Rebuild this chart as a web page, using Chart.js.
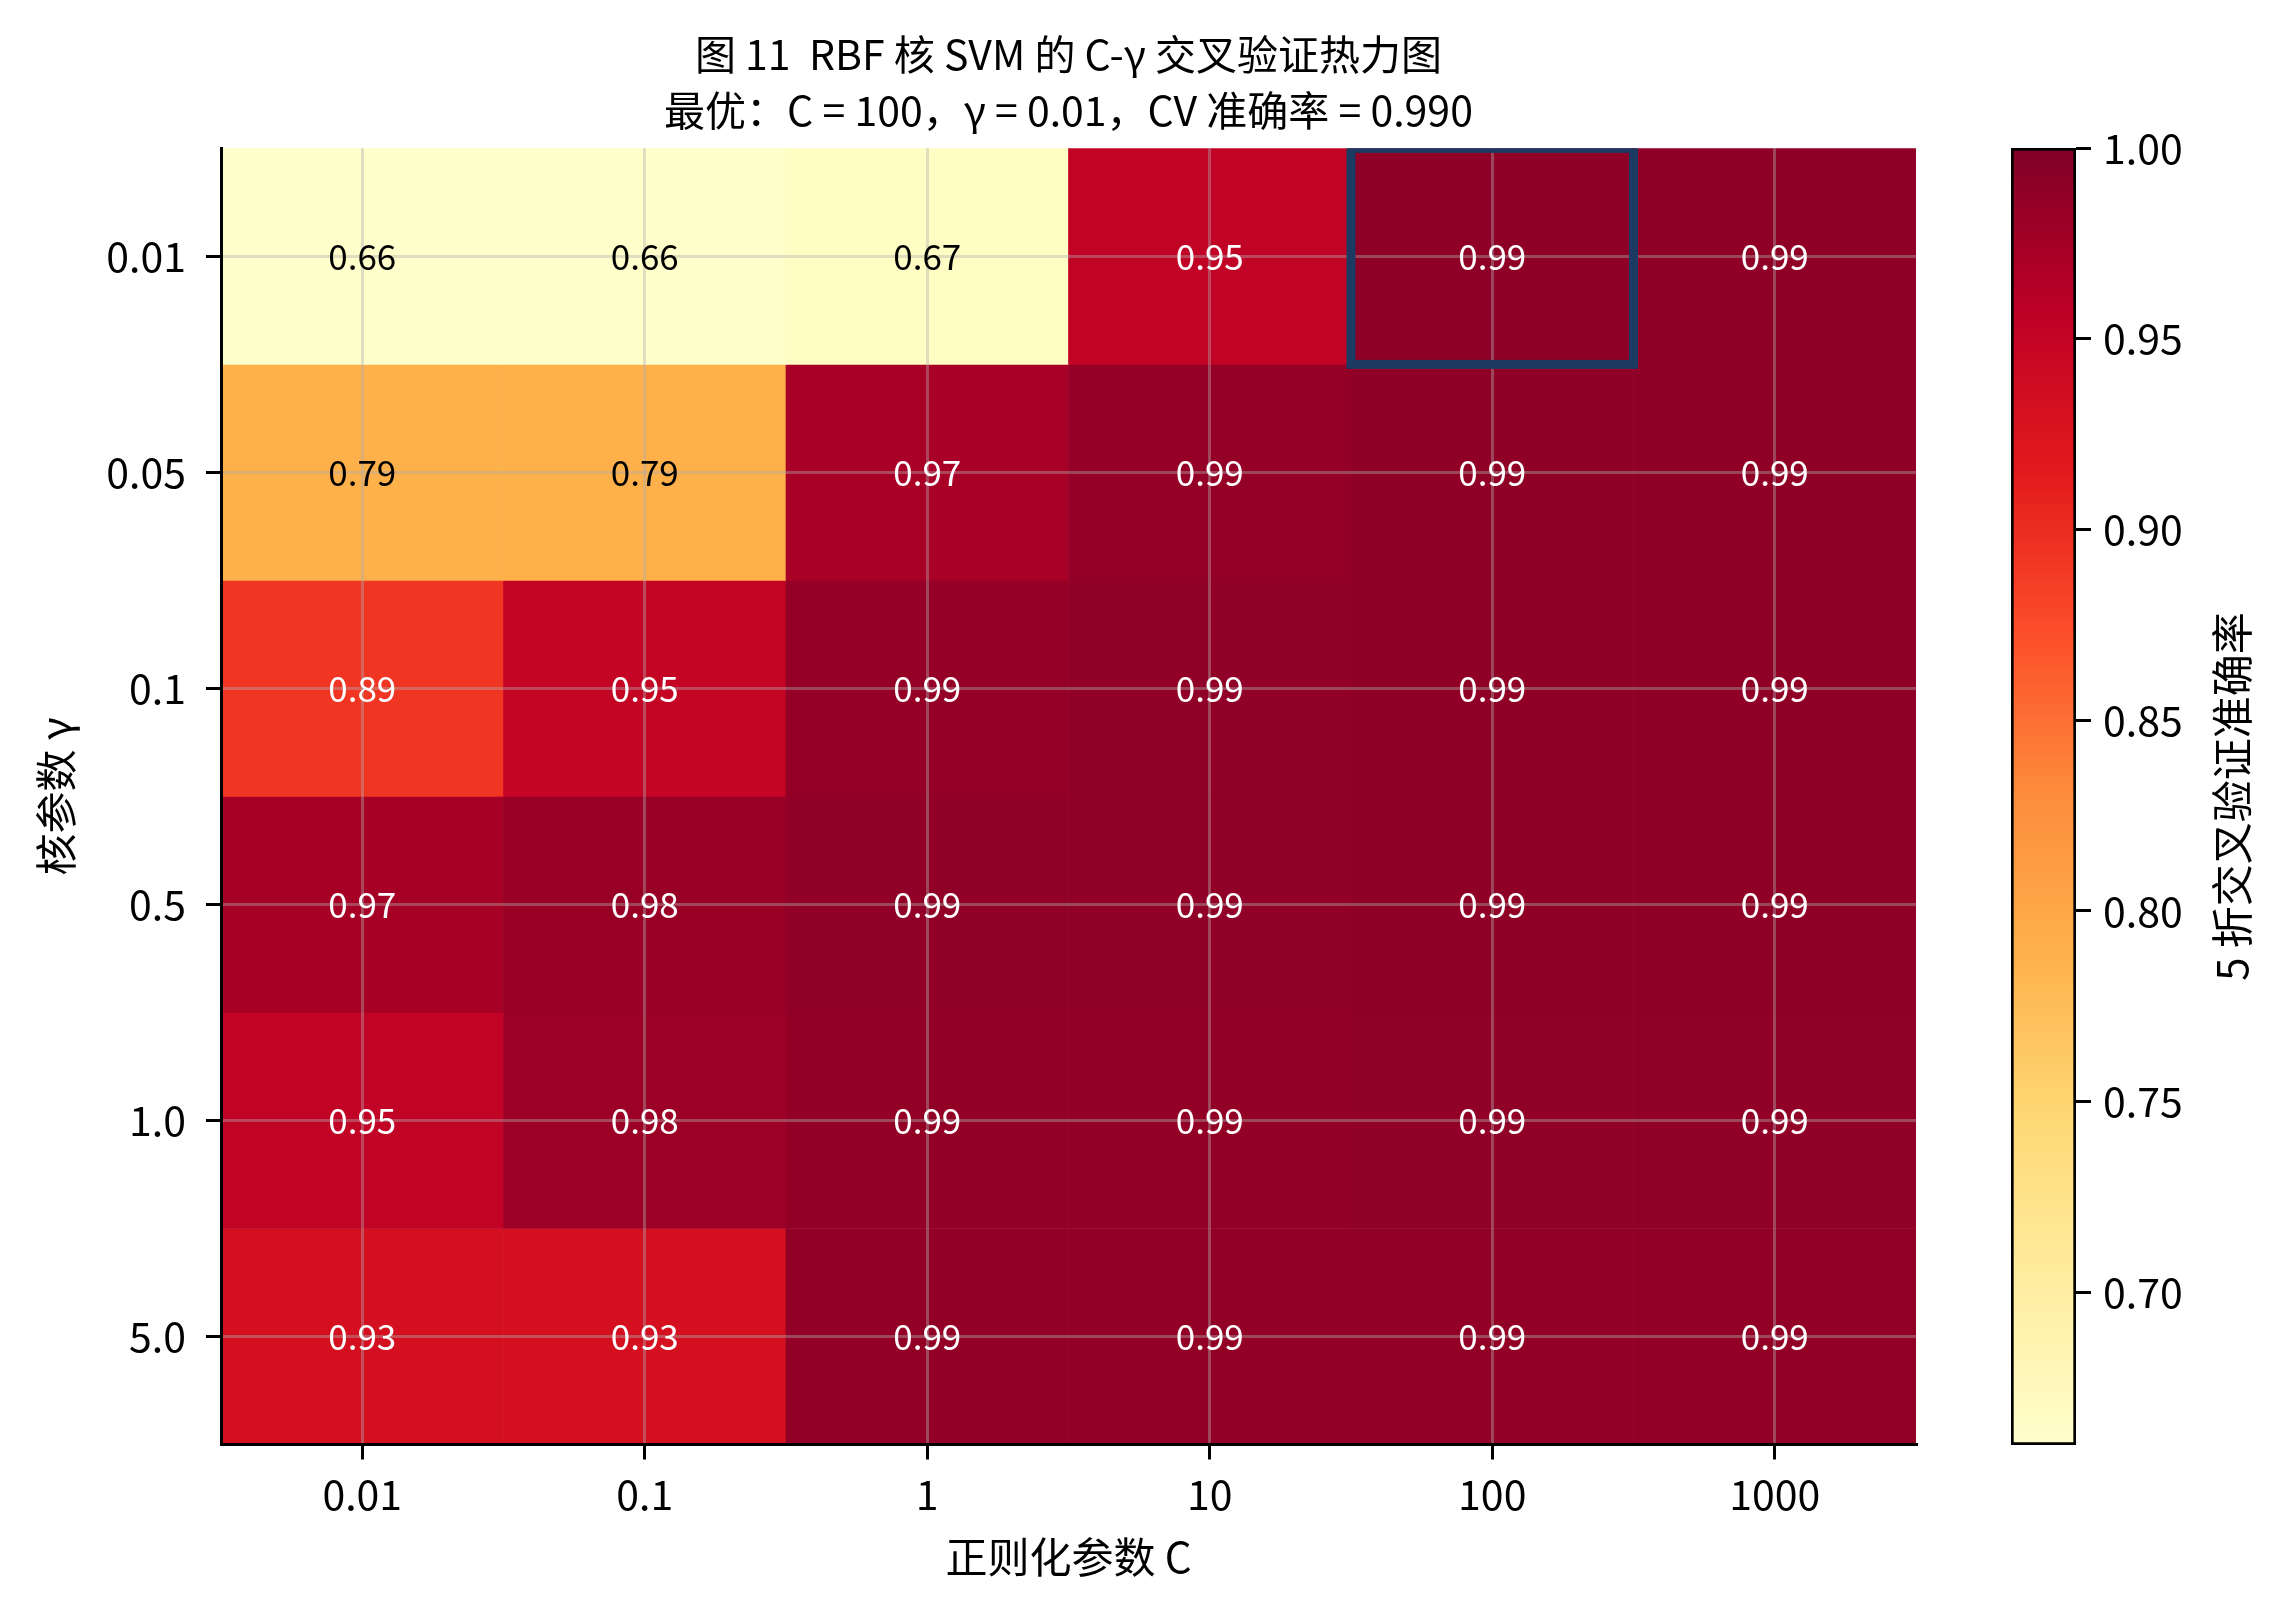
<!DOCTYPE html>
<html>
<head>
<meta charset="utf-8">
<title>RBF SVM C-gamma heatmap</title>
<script src="https://cdn.jsdelivr.net/npm/chart.js@4.4.1/dist/chart.umd.min.js"></script>
<style>
  html, body { margin: 0; padding: 0; background: #fff; overflow: hidden; }
  #wrap { position: relative; width: 2286px; height: 1602px; }
  #heat { position: absolute; left: 0; top: 0; }
  #cbar { position: absolute; left: 1950px; top: 0; }
</style>
</head>
<body>
<div id="wrap">
  <canvas id="heat" width="2137" height="1602"></canvas>
  <canvas id="cbar" width="336" height="1602"></canvas>
</div>
<script>
// ── data ──
const cLabels = ['0.01', '0.1', '1', '10', '100', '1000'];
const gammaLabels = ['0.01', '0.05', '0.1', '0.5', '1.0', '5.0'];

// 5-fold CV accuracy, one row per gamma, columns follow cLabels
const accG001 = [0.660, 0.661, 0.668, 0.953, 0.990, 0.989];
const accG005 = [0.790, 0.790, 0.972, 0.986, 0.989, 0.989];
const accG01  = [0.893, 0.950, 0.986, 0.988, 0.989, 0.989];
const accG05  = [0.973, 0.983, 0.988, 0.988, 0.989, 0.989];
const accG1   = [0.953, 0.980, 0.987, 0.987, 0.988, 0.988];
const accG5   = [0.933, 0.933, 0.987, 0.987, 0.987, 0.987];
const accRows = [accG001, accG005, accG01, accG05, accG1, accG5];

const cbTicks = [0.70, 0.75, 0.80, 0.85, 0.90, 0.95, 1.00];
const vmax = 1.0;
const vmin = Math.min(...accRows.flat());

// ── style ──
const FONT = "'Noto Sans CJK SC', 'DejaVu Sans', sans-serif";
const GRID = 'rgba(176,176,176,0.4)';
const BOX = '#1d3a63';
// YlOrRd
const cmap = ['#ffffcc', '#ffeda0', '#fed976', '#feb24c', '#fd8d3c',
              '#fc4e2a', '#e31a1c', '#bd0026', '#800026'];

function hexRgb(h) {
  return [1, 3, 5].map(i => parseInt(h.slice(i, i + 2), 16));
}
function colorFor(v) {
  let t = (v - vmin) / (vmax - vmin);
  t = Math.max(0, Math.min(1, t));
  const pos = t * (cmap.length - 1);
  const i = Math.min(Math.floor(pos), cmap.length - 2);
  const f = pos - i;
  const a = hexRgb(cmap[i]), b = hexRgb(cmap[i + 1]);
  const c = a.map((x, k) => Math.round(x + (b[k] - x) * f));
  return `rgb(${c[0]},${c[1]},${c[2]})`;
}

// best cell (first max, row-major)
let bestRow = 0, bestCol = 0;
accRows.forEach((row, r) => row.forEach((v, c) => {
  if (v > accRows[bestRow][bestCol]) { bestRow = r; bestCol = c; }
}));
const bestAcc = accRows[bestRow][bestCol];

const title1 = '图 11  RBF 核 SVM 的 C-γ 交叉验证热力图';
const title2 = `最优：C = ${cLabels[bestCol]}，γ = ${gammaLabels[bestRow]}，CV 准确率 = ${bestAcc.toFixed(3)}`;

// ─── cell labels + best box ───
const cellText = {
  id: 'cellText',
  afterDraw(chart) {
    const { ctx, chartArea } = chart;
    ctx.save();
    ctx.font = `35px ${FONT}`;
    ctx.textAlign = 'center';
    ctx.textBaseline = 'middle';
    accRows.forEach((row, r) => {
      const meta = chart.getDatasetMeta(r);
      row.forEach((v, c) => {
        const el = meta.data[c];
        ctx.fillStyle = v < (vmin + vmax) / 2 ? '#000' : '#fff';
        ctx.fillText(v.toFixed(2), el.x, (el.y + el.base) / 2);
      });
    });
    const best = chart.getDatasetMeta(bestRow).data[bestCol];
    const top = Math.min(best.y, best.base), bottom = Math.max(best.y, best.base);
    ctx.beginPath();
    ctx.rect(chartArea.left, chartArea.top, chartArea.width, chartArea.height);
    ctx.clip();
    ctx.strokeStyle = BOX;
    ctx.lineWidth = 9;
    ctx.strokeRect(best.x - best.width / 2, top, best.width, bottom - top);
    ctx.restore();
  },
};

const tickFont = { family: FONT, size: 41 };

new Chart(document.getElementById('heat'), {
  type: 'bar',
  data: {
    labels: cLabels,
    datasets: accRows.map((row, r) => ({
      label: gammaLabels[r],
      data: row.map(() => [r, r + 1]),
      backgroundColor: row.map(colorFor),
      borderWidth: 0,
      barPercentage: 1,
      categoryPercentage: 1,
      grouped: false,
    })),
  },
  options: {
    responsive: false,
    devicePixelRatio: 1,
    animation: false,
    layout: { padding: 0 },
    plugins: {
      legend: { display: false },
      tooltip: { enabled: false },
      title: {
        display: true,
        text: [title1, title2],
        color: '#000',
        font: { family: FONT, size: 41, weight: 'normal', lineHeight: 1.37 },
        padding: { top: 26, bottom: 10 },
      },
    },
    scales: {
      x: {
        type: 'category',
        offset: true,
        grid: { z: 1, offset: false, color: GRID, lineWidth: 3, tickColor: '#000', tickWidth: 3, tickLength: 15 },
        border: { display: true, color: '#000', width: 3, z: 2 },
        ticks: { color: '#000', font: tickFont, padding: 10, maxRotation: 0 },
        title: {
          display: true, text: '正则化参数 C', color: '#000',
          font: { family: FONT, size: 42 }, padding: { top: 0, bottom: 20 },
        },
        afterFit: s => { s.height = 157.5; },
      },
      y: {
        type: 'linear',
        min: 0,
        max: 6,
        reverse: true,
        afterBuildTicks: s => { s.ticks = gammaLabels.map((_, i) => ({ value: i + 0.5 })); },
        grid: { z: 1, color: GRID, lineWidth: 3, tickColor: '#000', tickWidth: 3, tickLength: 15 },
        border: { display: true, color: '#000', width: 3, z: 2 },
        ticks: { color: '#000', font: tickFont, padding: 20, callback: v => gammaLabels[Math.floor(v)] },
        title: {
          display: true, text: '核参数 γ', color: '#000',
          font: { family: FONT, size: 42 }, padding: { top: 31, bottom: 0 },
        },
        afterFit: s => { s.width = 221; },
      },
      // spacer so the plot ends where the colorbar starts
      yPad: {
        type: 'linear',
        position: 'right',
        grid: { display: false },
        border: { display: false },
        ticks: { display: false },
        afterFit: s => { s.width = 2137 - 1916; },
      },
    },
  },
  plugins: [cellText],
});

// ─── colorbar ───
const cbLabel = {
  id: 'cbLabel',
  afterDraw(chart) {
    const { ctx, chartArea } = chart;
    ctx.save();
    ctx.translate(282, (chartArea.top + chartArea.bottom) / 2);
    ctx.rotate(-Math.PI / 2);
    ctx.font = `42px ${FONT}`;
    ctx.fillStyle = '#000';
    ctx.textAlign = 'center';
    ctx.textBaseline = 'middle';
    ctx.fillText('5 折交叉验证准确率', 0, 0);
    ctx.restore();
  },
};

new Chart(document.getElementById('cbar'), {
  type: 'bar',
  data: {
    labels: [''],
    datasets: [{
      data: [[vmin, vmax]],
      backgroundColor: context => {
        const { chart } = context;
        const y = chart.scales.y;
        if (!chart.chartArea || !y) return cmap[cmap.length - 1];
        const g = chart.ctx.createLinearGradient(0, y.getPixelForValue(vmin), 0, y.getPixelForValue(vmax));
        cmap.forEach((c, i) => g.addColorStop(i / (cmap.length - 1), c));
        return g;
      },
      borderColor: '#000',
      borderWidth: 3,
      borderSkipped: false,
      barPercentage: 1,
      categoryPercentage: 1,
    }],
  },
  options: {
    responsive: false,
    devicePixelRatio: 1,
    animation: false,
    layout: { padding: { left: 61, top: 148, bottom: 157, right: 0 } },
    plugins: { legend: { display: false }, tooltip: { enabled: false } },
    scales: {
      x: { display: false, offset: true },
      y: {
        position: 'right',
        min: vmin,
        max: vmax,
        afterBuildTicks: s => { s.ticks = cbTicks.map(v => ({ value: v })); },
        grid: { drawOnChartArea: false, tickColor: '#000', tickWidth: 3, tickLength: 15 },
        border: { display: false },
        ticks: { color: '#000', font: tickFont, padding: 12, callback: v => v.toFixed(2) },
        afterFit: s => { s.width = 210; },
      },
    },
  },
  plugins: [cbLabel],
});
</script>
</body>
</html>
